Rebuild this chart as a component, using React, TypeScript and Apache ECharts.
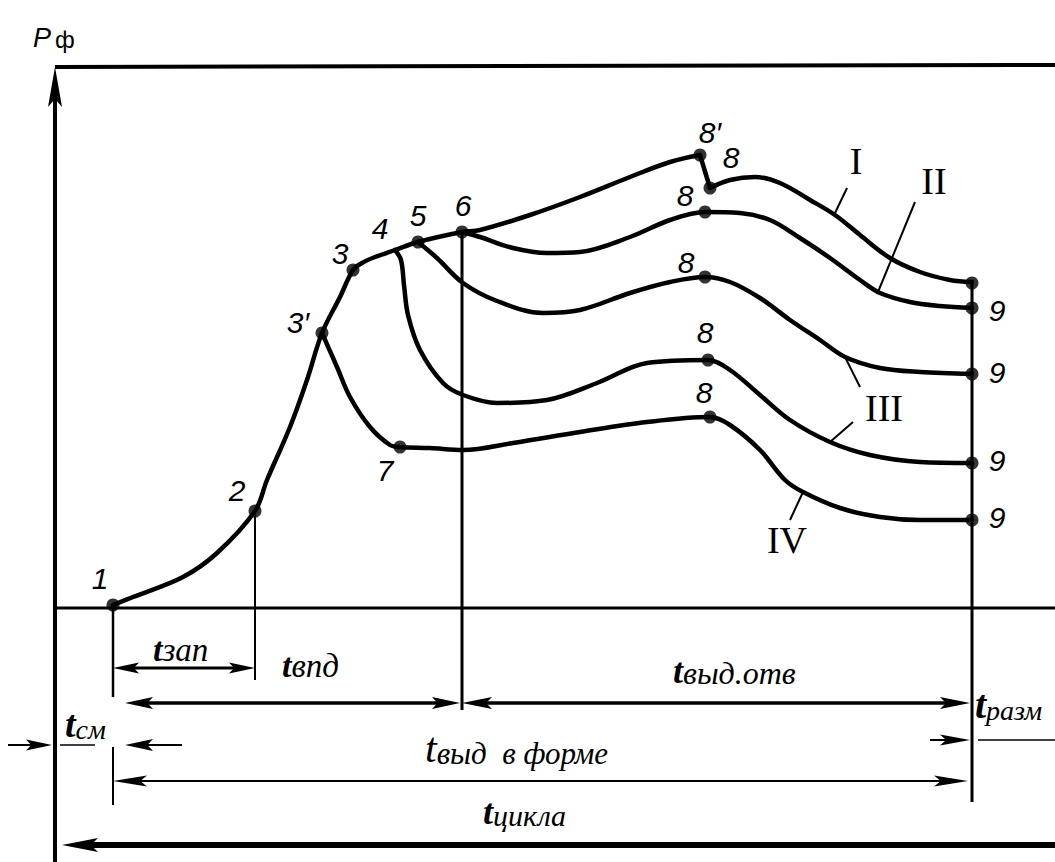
import React, { useEffect, useRef } from "react";
import * as echarts from "echarts";

// Coordinate system: t = time (arbitrary units from the P-axis), p = pressure (arbitrary units, 0 = baseline)
const T_MIN = -55;
const T_MAX = 1000;
const P_MIN = -254;
const P_MAX = 608;

// Main curve: 1 → 2 → 3′ → 3 → 4 → 5 → 6 → 8′ (curve I, rising part)
const curveMain: number[][] = [
  [58, 3], [78, 11], [128, 31], [162, 55], [200, 97], [212, 128], [235, 181], [252, 228],
  [267, 275], [285, 311], [298, 338], [307, 345], [320, 351], [340, 358], [363, 366], [407, 376],
  [425, 378], [475, 393], [525, 411], [575, 431], [615, 446], [645, 453],
];
// Curve I: drop 8′ → 8, then 8 → 9
const curveIDrop: number[][] = [[645, 453], [655, 420]];
const curveITail: number[][] = [
  [655, 420], [675, 428], [700, 431], [725, 425], [755, 408], [780, 393], [805, 373],
  [835, 350], [865, 336], [895, 328], [917, 326],
];
// Curve II: from 6
const curveII: number[][] = [
  [407, 376], [425, 371], [458, 360], [492, 355], [525, 356], [575, 371], [615, 388],
  [650, 396], [685, 395], [715, 388], [745, 370], [775, 350], [805, 328], [825, 315],
  [855, 306], [885, 302], [917, 300],
];
// Curve III: from 5
const curveIII: number[][] = [
  [363, 366], [382, 350], [408, 325], [442, 307], [488, 295], [525, 298], [575, 315],
  [615, 326], [650, 331], [675, 326], [705, 310], [735, 288], [765, 268], [790, 251],
  [825, 240], [865, 236], [917, 234],
];
// Curve from 4
const curveFrom4: number[][] = [
  [340, 358], [346, 348], [349, 323], [353, 293], [365, 258], [388, 225], [408, 213],
  [442, 205], [492, 208], [542, 225], [592, 245], [653, 248], [675, 238], [705, 213],
  [735, 188], [775, 166], [815, 153], [865, 146], [917, 145],
];
// Curve IV: from 3′ through 7
const curveFrom3p: number[][] = [
  [267, 275], [282, 241], [295, 211], [315, 181], [335, 163], [345, 161], [375, 160],
  [408, 158], [458, 165], [525, 176], [592, 186], [655, 191], [675, 183], [705, 158],
  [730, 128], [748, 116], [785, 100], [825, 91], [865, 88], [917, 88],
];

// Marked points (dots)
const keyPoints: number[][] = [
  [58, 3], [200, 97], [267, 275], [298, 338], [363, 366], [407, 376], [645, 453],
  [655, 420], [650, 396], [650, 331], [653, 248], [655, 191], [345, 161],
  [917, 325], [917, 300], [917, 234], [917, 145], [917, 88],
];

// Point labels
const pointLabelText: string[] = [
  "1", "2", "3′", "3", "4", "5", "6", "7", "8′", "8", "8", "8", "8", "8", "9", "9", "9", "9",
];
const pointLabelPos: number[][] = [
  [45, 30], [182, 118], [243, 286], [285, 355], [325, 380], [363, 393], [408, 403], [330, 138],
  [655, 476], [676, 451], [630, 413], [631, 346], [650, 276], [649, 216],
  [942, 298], [942, 236], [942, 148], [942, 91],
];

// Curve numbers (roman) and their leader lines
const romanText: string[] = ["I", "II", "III", "IV"];
const romanPos: number[][] = [[801, 447], [879, 427], [829, 200], [732, 68]];
const leaderSegments: number[][] = [
  [792, 420, 780, 395], [860, 406, 823, 316], [805, 221, 790, 251], [798, 186, 775, 166], [735, 88, 748, 116],
];

// Frame / axes
const axisSegment: number[][] = [[0, -254, 0, 541]];
const frameSegments: number[][] = [[0, 541, 1000, 543], [0, 0, 1000, 0]];
const extensionSegments: number[][] = [
  [58, 3, 58, -89], [58, -139, 58, -197], [200, 97, 200, -72], [407, 376, 407, -102], [917, 325, 917, -194],
];

// Dimension lines: [tStart, tEnd, p, arrowAtStart, arrowAtEnd]
const dimensionLines: number[][] = [
  [58, 200, -60, 1, 1],     // t зап
  [70, 405, -95, 1, 1],     // t впд
  [407, 915, -95, 1, 1],    // t выд.отв
  [-47, -3, -137, 0, 1],    // t см (outer left arrow)
  [5, 40, -137, 0, 0],      // t см (inner tail)
  [127, 70, -137, 0, 1],    // t см (right arrow)
  [875, 915, -132, 0, 1],   // t разм arrow
  [923, 1000, -132, 0, 0],  // t разм tail
  [58, 913, -173, 1, 1],    // t выд в форме
  [7, 1000, -237, 1, 0],    // t цикла
];

// Interval labels
const intervalSubscripts: string[] = ["зап", "впд", "выд.отв", "разм", "см", "выд  в форме", "цикла"];
const intervalLabelPos: number[][] = [
  [98, -38], [227, -54], [618, -60], [920, -92], [10, -113], [370, -136], [428, -201],
];

// Axis title
const axisTitleMain = "P";
const axisTitleSub = "ф";
const axisTitlePos: number[][] = [[-22, 577]];

// ---------- styles ----------
const INK = "#000";
const dimensionStyles = [
  { w: 3, L: 26, W: 5.5 },
  { w: 3.5, L: 28, W: 6 },
  { w: 3.5, L: 30, W: 6 },
  { w: 2, L: 26, W: 5.5 },
  { w: 1.5, L: 0, W: 0 },
  { w: 2, L: 28, W: 6 },
  { w: 2, L: 30, W: 5.5 },
  { w: 1.5, L: 0, W: 0 },
  { w: 2, L: 34, W: 5.5 },
  { w: 6, L: 36, W: 7 },
];
const intervalStyles = [
  { tFont: 'italic bold 34px "Liberation Serif"', tLH: 40, sFont: 'italic 33px "Liberation Serif"', sLH: 39 },
  { tFont: 'italic bold 34px "Liberation Serif"', tLH: 40, sFont: 'italic 33px "Liberation Serif"', sLH: 39 },
  { tFont: 'italic bold 36px "Liberation Serif"', tLH: 42, sFont: 'italic 32px "Liberation Serif"', sLH: 38 },
  { tFont: 'italic bold 40px "Liberation Serif"', tLH: 48, sFont: 'italic 28px "Liberation Serif"', sLH: 20 },
  { tFont: 'italic bold 38px "Liberation Serif"', tLH: 44, sFont: 'italic 28px "Liberation Serif"', sLH: 33 },
  { tFont: 'italic 42px "Liberation Serif"', tLH: 50, sFont: 'italic 31px "Liberation Serif"', sLH: 37 },
  { tFont: 'italic bold 36px "Liberation Serif"', tLH: 42, sFont: 'italic 30px "Liberation Serif"', sLH: 36 },
];

function arrowHead(tip: number[], from: number[], L: number, W: number) {
  const dx = tip[0] - from[0];
  const dy = tip[1] - from[1];
  const len = Math.hypot(dx, dy) || 1;
  const ux = dx / len;
  const uy = dy / len;
  const nx = -uy;
  const ny = ux;
  const bx = tip[0] - ux * L;
  const by = tip[1] - uy * L;
  return {
    type: "polygon",
    shape: {
      points: [
        [tip[0], tip[1]],
        [bx + nx * W, by + ny * W],
        [bx + ux * L * 0.2, by + uy * L * 0.2],
        [bx - nx * W, by - ny * W],
      ],
    },
    style: { fill: INK },
  };
}

// segments: [t1, p1, t2, p2, arrowStart, arrowEnd]
function segmentSeries(data: number[][], styleOf: (i: number) => { w: number; L: number; W: number }, z = 4) {
  return {
    type: "custom",
    coordinateSystem: "cartesian2d",
    data,
    encode: { x: [0, 2], y: [1, 3] },
    silent: true,
    z,
    renderItem: (params: any, api: any) => {
      const i = params.dataIndex;
      const st = styleOf(i);
      const a = api.coord([api.value(0), api.value(1)]);
      const b = api.coord([api.value(2), api.value(3)]);
      const dx = b[0] - a[0];
      const dy = b[1] - a[1];
      const len = Math.hypot(dx, dy) || 1;
      const ux = dx / len;
      const uy = dy / len;
      let s = [a[0], a[1]];
      let e = [b[0], b[1]];
      const children: any[] = [];
      if (api.value(4)) {
        children.push(arrowHead(a, b, st.L, st.W));
        s = [a[0] + ux * st.L * 0.6, a[1] + uy * st.L * 0.6];
      }
      if (api.value(5)) {
        children.push(arrowHead(b, a, st.L, st.W));
        e = [b[0] - ux * st.L * 0.6, b[1] - uy * st.L * 0.6];
      }
      children.unshift({
        type: "line",
        shape: { x1: s[0], y1: s[1], x2: e[0], y2: e[1] },
        style: { stroke: INK, lineWidth: st.w, lineCap: "butt" },
      });
      return { type: "group", children };
    },
  };
}

function textSeries(anchors: number[][], styleOf: (i: number) => any) {
  return {
    type: "custom",
    coordinateSystem: "cartesian2d",
    data: anchors,
    encode: { x: 0, y: 1 },
    silent: true,
    z: 10,
    renderItem: (params: any, api: any) => {
      const c = api.coord([api.value(0), api.value(1)]);
      return { type: "text", x: c[0], y: c[1], style: styleOf(params.dataIndex) };
    },
  };
}

function curve(data: number[][], smooth: number | boolean = 0.35) {
  return {
    type: "line",
    data,
    smooth,
    symbol: "none",
    showSymbol: false,
    silent: true,
    z: 3,
    lineStyle: { color: INK, width: 4.5, cap: "round", join: "round" },
  };
}

function buildOption() {
  const segs = (arr: number[][]) => arr.map((s) => [s[0], s[1], s[2], s[3], 0, 0]);
  const dims = dimensionLines.map((d) => [d[0], d[2], d[1], d[2], d[3], d[4]]);
  return {
    animation: false,
    backgroundColor: "#fff",
    grid: { left: 0, right: 0, top: 0, bottom: 0, containLabel: false },
    xAxis: { type: "value", min: T_MIN, max: T_MAX, show: false },
    yAxis: { type: "value", min: P_MIN, max: P_MAX, show: false },
    series: [
      segmentSeries(axisSegment.map((s) => [s[0], s[1], s[2], s[3], 0, 1]), () => ({ w: 4, L: 40, W: 7 })),
      segmentSeries(segs(frameSegments), (i) => ({ w: i === 0 ? 4 : 3, L: 0, W: 0 })),
      segmentSeries(segs(extensionSegments), (i) => ({ w: [2.5, 2, 2, 3, 3][i], L: 0, W: 0 })),
      segmentSeries(segs(leaderSegments), () => ({ w: 2, L: 0, W: 0 })),
      segmentSeries(dims, (i) => dimensionStyles[i]),
      curve(curveMain),
      curve(curveIDrop, false),
      curve(curveITail),
      curve(curveII),
      curve(curveIII),
      curve(curveFrom4),
      curve(curveFrom3p),
      {
        type: "scatter",
        data: keyPoints,
        symbol: "circle",
        symbolSize: 13,
        silent: true,
        z: 5,
        itemStyle: { color: INK },
      },
      textSeries(pointLabelPos, (i) => ({
        text: pointLabelText[i],
        font: 'italic 30px "Liberation Sans"',
        fill: INK,
        align: "center",
        textAlign: "center",
        verticalAlign: "middle",
        textVerticalAlign: "middle",
      })),
      textSeries(romanPos, (i) => ({
        text: romanText[i],
        font: '38px "Liberation Serif"',
        fill: INK,
        align: "center",
        textAlign: "center",
        verticalAlign: "middle",
        textVerticalAlign: "middle",
      })),
      textSeries(intervalLabelPos, (i) => {
        const st = intervalStyles[i];
        return {
          text: "{t|t}{s|" + intervalSubscripts[i] + "}",
          fill: INK,
          align: "left",
          textAlign: "left",
          verticalAlign: "middle",
          textVerticalAlign: "middle",
          rich: {
            t: { font: st.tFont, fill: INK, lineHeight: st.tLH, verticalAlign: "bottom" },
            s: { font: st.sFont, fill: INK, lineHeight: st.sLH, verticalAlign: "bottom" },
          },
        };
      }),
      textSeries(axisTitlePos, () => ({
        text: "{p|" + axisTitleMain + "}{f|" + axisTitleSub + "}",
        fill: INK,
        align: "left",
        textAlign: "left",
        verticalAlign: "middle",
        textVerticalAlign: "middle",
        rich: {
          p: { font: 'italic 27px "Liberation Sans"', fill: INK, lineHeight: 40, verticalAlign: "bottom" },
          f: { font: '24px "Liberation Sans"', fill: INK, lineHeight: 18, verticalAlign: "bottom", padding: [0, 0, 0, 4] },
        },
      })),
    ],
  };
}

export default function App() {
  const ref = useRef<HTMLDivElement>(null);
  useEffect(() => {
    if (!ref.current) return;
    const chart = echarts.init(ref.current, null, { renderer: "svg" });
    chart.setOption(buildOption() as any);
    return () => chart.dispose();
  }, []);
  return (
    <div
      ref={ref}
      style={{ position: "absolute", left: 0, top: 0, width: 1055, height: 862, background: "#fff" }}
    />
  );
}
